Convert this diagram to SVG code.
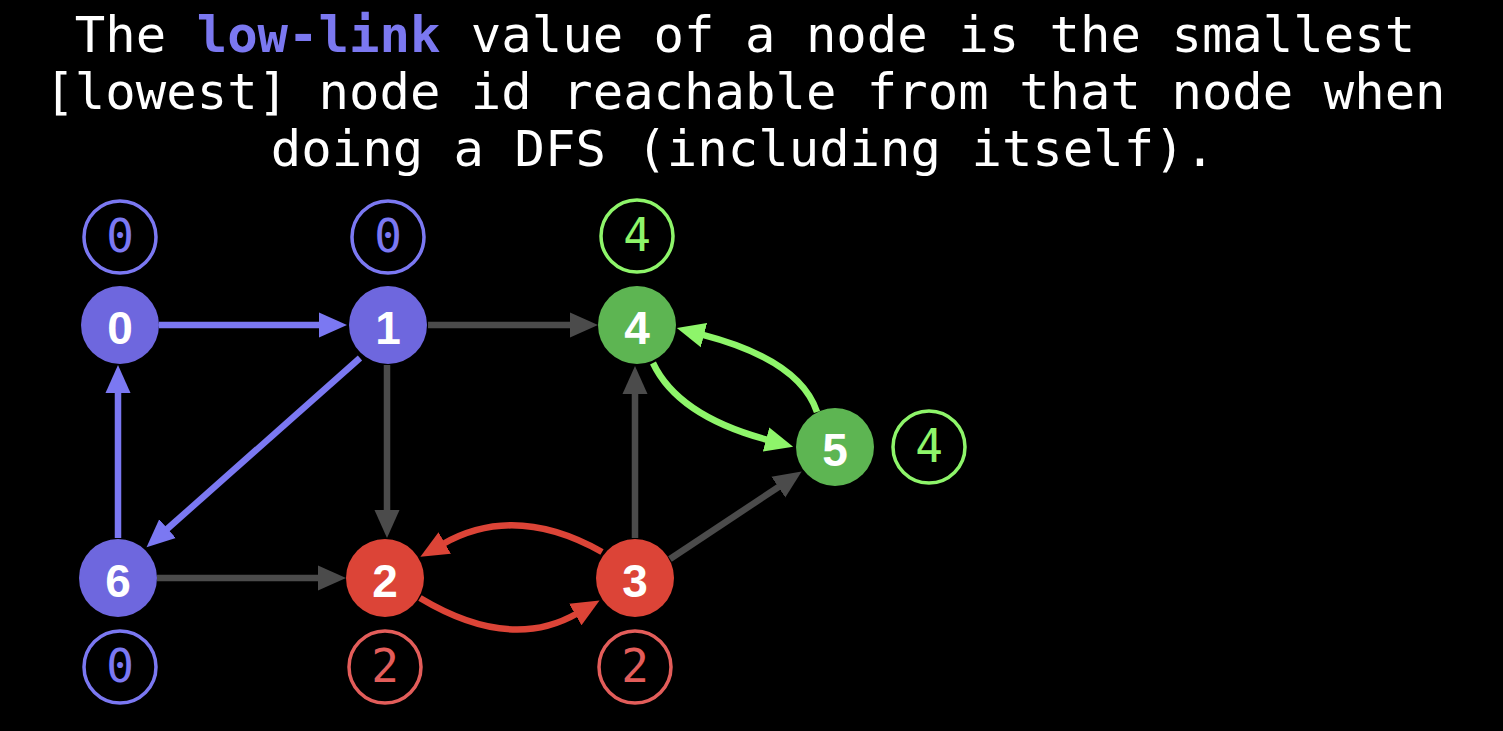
<svg xmlns="http://www.w3.org/2000/svg" width="1503" height="731" viewBox="0 0 1503 731">
<style>
.title{font-family:"DejaVu Sans Mono","Liberation Mono",monospace;font-size:50.6px;fill:#ffffff;text-anchor:middle}
.hl{fill:#7b78f0;font-weight:bold}
.nl{font-family:"Liberation Sans",Arial,sans-serif;font-weight:bold;font-size:46px;fill:#ffffff;text-anchor:middle}
.ll{font-family:"DejaVu Sans Mono","Liberation Mono",monospace;font-size:46px;text-anchor:middle}
.e{fill:none;stroke-width:6.5}
.gray{stroke:#4b4b4b}
.blue{stroke:#7b78f2}
.red{stroke:#dc4437}
.green{stroke:#8ef56a}
.lc{fill:none;stroke-width:3.5}
</style>
<defs>
<marker id="ag" markerUnits="userSpaceOnUse" markerWidth="30" markerHeight="28" viewBox="0 -14 30 28" refX="2" refY="0" orient="auto"><path d="M0,-12.5 L28,0 L0,12.5 z" fill="#4b4b4b"/></marker>
<marker id="ab" markerUnits="userSpaceOnUse" markerWidth="30" markerHeight="28" viewBox="0 -14 30 28" refX="2" refY="0" orient="auto"><path d="M0,-12.5 L28,0 L0,12.5 z" fill="#7b78f2"/></marker>
<marker id="ar" markerUnits="userSpaceOnUse" markerWidth="30" markerHeight="28" viewBox="0 -14 30 28" refX="2" refY="0" orient="auto"><path d="M0,-12.5 L28,0 L0,12.5 z" fill="#dc4437"/></marker>
<marker id="agr" markerUnits="userSpaceOnUse" markerWidth="30" markerHeight="28" viewBox="0 -14 30 28" refX="2" refY="0" orient="auto"><path d="M0,-12.5 L28,0 L0,12.5 z" fill="#8ef56a"/></marker>
</defs>
<rect width="1503" height="731" fill="#000000"/>
<g id="title">
<text class="title" x="745" y="52">The <tspan class="hl">low-link</tspan> value of a node is the smallest</text>
<text class="title" x="745" y="109">[lowest] node id reachable from that node when</text>
<text class="title" x="743" y="166">doing a DFS (including itself).</text>
</g>
<g id="connectors">
<path class="e blue" d="M159,325 L321,325" marker-end="url(#ab)"/>
<path class="e gray" d="M428,325 L572,325" marker-end="url(#ag)"/>
<path class="e gray" d="M387,365 L387,512" marker-end="url(#ag)"/>
<path class="e blue" d="M118,538 L118,391" marker-end="url(#ab)"/>
<path class="e gray" d="M157,578 L320,578" marker-end="url(#ag)"/>
<path class="e gray" d="M635,538 L635,392" marker-end="url(#ag)"/>
<path class="e gray" d="M670,559 L780,486" marker-end="url(#ag)"/>
<path class="e blue" d="M360,358 L166,530" marker-end="url(#ab)"/>
<path class="e red" d="M602,552 Q515,503 443,544" marker-end="url(#ar)"/>
<path class="e red" d="M420,598 Q510,652 577,613.5" marker-end="url(#ar)"/>
<path class="e green" d="M653,363 Q678,416 768,440" marker-end="url(#agr)"/>
<path class="e green" d="M817,412 Q800,360 702,334.6" marker-end="url(#agr)"/>
</g>
<g id="node0">
<circle cx="120" cy="325" r="39" fill="#6e67de"/>
<text class="nl" x="120" y="344">0</text>
<circle class="lc" cx="120" cy="237" r="36" stroke="#7b78f2"/>
<text class="ll" x="120" y="252" fill="#7b78f2">0</text>
</g>
<g id="node1">
<circle cx="388" cy="325" r="39" fill="#6e67de"/>
<text class="nl" x="388" y="344">1</text>
<circle class="lc" cx="388" cy="237" r="36" stroke="#7b78f2"/>
<text class="ll" x="388" y="252" fill="#7b78f2">0</text>
</g>
<g id="node4">
<circle cx="637" cy="325" r="39" fill="#5db552"/>
<text class="nl" x="637" y="344">4</text>
<circle class="lc" cx="637" cy="236" r="36" stroke="#8ef56a"/>
<text class="ll" x="637" y="251" fill="#8ef56a">4</text>
</g>
<g id="node5">
<circle cx="835" cy="447" r="39" fill="#5db552"/>
<text class="nl" x="835" y="466">5</text>
<circle class="lc" cx="929" cy="447" r="36" stroke="#8ef56a"/>
<text class="ll" x="929" y="462" fill="#8ef56a">4</text>
</g>
<g id="node6">
<circle cx="118" cy="578" r="39" fill="#6e67de"/>
<text class="nl" x="118" y="597">6</text>
<circle class="lc" cx="120" cy="667" r="36" stroke="#7b78f2"/>
<text class="ll" x="120" y="682" fill="#7b78f2">0</text>
</g>
<g id="node2">
<circle cx="385" cy="578" r="39" fill="#dc4437"/>
<text class="nl" x="385" y="597">2</text>
<circle class="lc" cx="385" cy="667" r="36" stroke="#e35d5a"/>
<text class="ll" x="385" y="682" fill="#e35d5a">2</text>
</g>
<g id="node3">
<circle cx="635" cy="578" r="39" fill="#dc4437"/>
<text class="nl" x="635" y="597">3</text>
<circle class="lc" cx="635" cy="667" r="36" stroke="#e35d5a"/>
<text class="ll" x="635" y="682" fill="#e35d5a">2</text>
</g>
</svg>
